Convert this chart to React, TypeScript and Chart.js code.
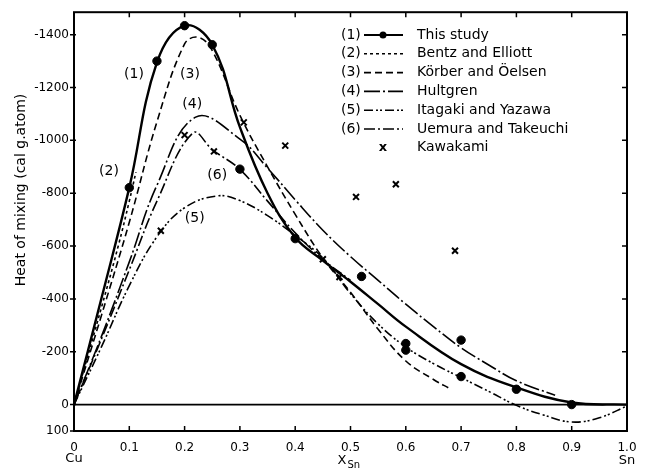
import React, { useEffect, useRef } from "react";
import { Chart, registerables } from "chart.js";

Chart.register(...registerables);

// ---- axis ticks ----
const xTickValues = [0, 0.1, 0.2, 0.3, 0.4, 0.5, 0.6, 0.7, 0.8, 0.9, 1.0];
const yTickValues = [-1400, -1200, -1000, -800, -600, -400, -200, 0, 100];

// ---- (1) This study: measured points ----
const studyX = [0.1, 0.15, 0.2, 0.25, 0.3, 0.4, 0.52, 0.6, 0.6, 0.7, 0.7, 0.8, 0.9];
const studyY = [-821, -1300, -1434, -1362, -891, -628, -485, -231, -206, -244, -106, -58, 0];

// ---- Kawakami points ----
const kawakamiX = [0.157, 0.2, 0.253, 0.307, 0.382, 0.45, 0.48, 0.51, 0.582, 0.689];
const kawakamiY = [-658, -1020, -958, -1068, -980, -550, -483, -786, -834, -582];

// ---- (1) This study curve ----
const curve1X = [0, 0.05, 0.1, 0.15, 0.2, 0.25, 0.3, 0.35, 0.4, 0.45, 0.5, 0.55, 0.6, 0.7, 0.8, 0.9, 1.0];
const curve1Y = [0, -405, -821, -1295, -1434, -1362, -1050, -800, -632, -545, -465, -380, -295, -153, -65, -8, 0];

// ---- (2) Bentz and Elliott ----
const curve2X = [0, 0.05, 0.08, 0.1, 0.112];
const curve2Y = [0, -370, -600, -770, -880];

// ---- (3) Körber and Öelsen ----
const curve3X = [0, 0.05, 0.1, 0.15, 0.2, 0.225, 0.25, 0.3, 0.35, 0.4, 0.45, 0.5, 0.55, 0.6, 0.65, 0.68];
const curve3Y = [0, -340, -690, -1070, -1365, -1390, -1340, -1095, -900, -720, -555, -425, -285, -165, -95, -60];

// ---- (4) Hultgren ----
const curve4X = [0, 0.05, 0.1, 0.15, 0.22, 0.3, 0.35, 0.4, 0.45, 0.5, 0.55, 0.6, 0.65, 0.7, 0.75, 0.8, 0.87];
const curve4Y = [0, -260, -540, -830, -1088, -1005, -895, -775, -660, -560, -470, -380, -295, -215, -150, -90, -35];

// ---- (5) Itagaki and Yazawa ----
const curve5X = [0, 0.05, 0.1, 0.15, 0.2, 0.26, 0.3, 0.35, 0.4, 0.45, 0.5, 0.55, 0.6, 0.65, 0.7, 0.75, 0.8, 0.85, 0.9, 0.95, 1.0];
const curve5Y = [0, -220, -450, -635, -745, -790, -772, -715, -640, -555, -420, -305, -218, -155, -102, -50, 3, 40, 66, 50, 5];

// ---- (6) Uemura and Takeuchi ----
const curve6X = [0, 0.05, 0.1, 0.15, 0.215, 0.25, 0.3, 0.35, 0.4, 0.45, 0.5];
const curve6Y = [0, -250, -510, -770, -1028, -965, -890, -770, -650, -550, -470];

// ---- legend / annotation texts ----
const legendTags = ["(1)", "(2)", "(3)", "(4)", "(5)", "(6)", "x"];
const legendNames = ["This study", "Bentz and Elliott", "Körber and Öelsen", "Hultgren", "Itagaki and Yazawa", "Uemura and Takeuchi", "Kawakami"];
const curveTags = ["(1)", "(3)", "(4)", "(2)", "(6)", "(5)"];
const curveTagX = [0.1085, 0.2098, 0.2139, 0.0633, 0.2591, 0.2183];
const curveTagY = [-1249, -1249, -1137, -884, -867, -704];

const dashes: number[][] = [[], [3, 3], [7, 4], [16, 3, 2, 3], [9, 3, 2, 2, 2, 3], [11, 3, 2, 3]];

const FONT = '"DejaVu Sans", sans-serif';

const pts = (xs: number[], ys: number[]) => xs.map((x, i) => ({ x, y: ys[i] }));

export default function App() {
  const ref = useRef<HTMLCanvasElement>(null);

  useEffect(() => {
    document.body.style.margin = "0";
    const canvas = ref.current!;

    const curve = (label: string, xs: number[], ys: number[], dash: number[], width: number) => ({
      label,
      data: pts(xs, ys),
      borderColor: "#000",
      backgroundColor: "#000",
      borderWidth: width,
      borderDash: dash,
      pointRadius: 0,
      fill: false,
      showLine: true,
      tension: 0.4,
      clip: false as any,
    });

    const decor = {
      id: "decor",
      afterDraw(chart: any) {
        const ctx = chart.ctx as CanvasRenderingContext2D;
        const { left, right, top, bottom } = chart.chartArea;
        const xs = chart.scales.x;
        const ys = chart.scales.y;
        ctx.save();
        ctx.strokeStyle = "#000";
        ctx.fillStyle = "#000";
        ctx.setLineDash([]);
        // frame
        ctx.lineWidth = 2;
        ctx.strokeRect(left, top, right - left, bottom - top);
        // zero line
        const y0 = ys.getPixelForValue(0);
        ctx.lineWidth = 1.8;
        ctx.beginPath();
        ctx.moveTo(left, y0);
        ctx.lineTo(right, y0);
        ctx.stroke();
        // ticks
        ctx.lineWidth = 1.5;
        ctx.beginPath();
        xTickValues.forEach((v) => {
          const px = xs.getPixelForValue(v);
          if (v > 0 && v < 1) {
            ctx.moveTo(px, bottom);
            ctx.lineTo(px, bottom - 5);
            ctx.moveTo(px, top);
            ctx.lineTo(px, top + 5);
          }
        });
        yTickValues.forEach((v) => {
          const py = ys.getPixelForValue(v);
          ctx.moveTo(left - 4, py);
          ctx.lineTo(left + 2, py);
          if (v !== 0 && v !== 100) {
            ctx.moveTo(right, py);
            ctx.lineTo(right - 5, py);
          }
        });
        ctx.stroke();

        // axis extra labels
        ctx.font = `13px ${FONT}`;
        ctx.textAlign = "center";
        ctx.textBaseline = "middle";
        ctx.fillText("Cu", xs.getPixelForValue(0), 459);
        ctx.fillText("Sn", xs.getPixelForValue(1), 461);
        const xm = xs.getPixelForValue(0.5) - 4;
        ctx.textAlign = "right";
        ctx.fillText("X", xm, 461);
        ctx.textAlign = "left";
        ctx.font = `10px ${FONT}`;
        ctx.fillText("Sn", xm + 1, 465);

        // y title
        ctx.save();
        ctx.translate(21, 190);
        ctx.rotate(-Math.PI / 2);
        ctx.font = `14px ${FONT}`;
        ctx.textAlign = "center";
        ctx.textBaseline = "middle";
        ctx.fillText("Heat of mixing (cal g.atom)", 0, 0);
        ctx.restore();

        // curve tags
        ctx.font = `14px ${FONT}`;
        ctx.textAlign = "center";
        ctx.textBaseline = "middle";
        curveTags.forEach((t, i) => {
          ctx.fillText(t, xs.getPixelForValue(curveTagX[i]), ys.getPixelForValue(curveTagY[i]));
        });

        // legend
        const rowY0 = 35;
        const rowH = 18.8;
        legendNames.forEach((name, i) => {
          const y = rowY0 + i * rowH;
          ctx.font = `14px ${FONT}`;
          ctx.textBaseline = "middle";
          if (i < 6) {
            ctx.textAlign = "left";
            ctx.fillText(legendTags[i], 341, y);
            ctx.lineWidth = i === 0 ? 2.2 : 1.6;
            ctx.setLineDash(dashes[i]);
            ctx.beginPath();
            ctx.moveTo(364, y);
            ctx.lineTo(403, y);
            ctx.stroke();
            ctx.setLineDash([]);
            if (i === 0) {
              ctx.beginPath();
              ctx.arc(383, y, 3.5, 0, Math.PI * 2);
              ctx.fill();
            }
          } else {
            ctx.textAlign = "center";
            ctx.font = `bold 13px ${FONT}`;
            ctx.fillText(legendTags[i], 383, y);
            ctx.font = `14px ${FONT}`;
          }
          ctx.textAlign = "left";
          ctx.fillText(name, 417, y);
        });
        ctx.restore();
      },
    };

    const chart = new Chart(canvas, {
      type: "line",
      data: {
        datasets: [
          curve("This study curve", curve1X, curve1Y, dashes[0], 2.4),
          curve("Bentz and Elliott", curve2X, curve2Y, dashes[1], 1.6),
          curve("Körber and Öelsen", curve3X, curve3Y, dashes[2], 1.6),
          curve("Hultgren", curve4X, curve4Y, dashes[3], 1.6),
          curve("Itagaki and Yazawa", curve5X, curve5Y, dashes[4], 1.6),
          curve("Uemura and Takeuchi", curve6X, curve6Y, dashes[5], 1.6),
          {
            label: "This study",
            data: pts(studyX, studyY),
            showLine: false,
            pointStyle: "circle",
            pointRadius: 4.2,
            pointBackgroundColor: "#000",
            pointBorderColor: "#000",
            borderColor: "#000",
            clip: false as any,
          },
          {
            label: "Kawakami",
            data: pts(kawakamiX, kawakamiY),
            showLine: false,
            pointStyle: "crossRot",
            pointRadius: 4.2,
            pointBorderWidth: 2,
            pointBorderColor: "#000",
            borderColor: "#000",
            clip: false as any,
          },
        ] as any,
      },
      options: {
        responsive: false,
        animation: false,
        devicePixelRatio: 1,
        layout: { padding: { top: 9, right: 21, left: 0, bottom: 0 } },
        plugins: { legend: { display: false }, tooltip: { enabled: false } },
        scales: {
          x: {
            type: "linear",
            min: 0,
            max: 1,
            afterFit: (s: any) => {
              s.height = 37;
            },
            afterBuildTicks: (s: any) => {
              s.ticks = xTickValues.map((v) => ({ value: v }));
            },
            ticks: {
              callback: (v: any) => (v === 0 ? "0" : Number(v).toFixed(1)),
              font: { family: FONT, size: 12 },
              color: "#000",
              padding: 10,
              maxRotation: 0,
              autoSkip: false,
            },
            grid: { display: false, drawTicks: false },
            border: { display: false },
          },
          y: {
            type: "linear",
            min: -1485,
            max: 100,
            reverse: true,
            afterFit: (s: any) => {
              s.width = 74;
            },
            afterBuildTicks: (s: any) => {
              s.ticks = yTickValues.map((v) => ({ value: v }));
            },
            ticks: {
              callback: (v: any) => String(v),
              font: { family: FONT, size: 12 },
              color: "#000",
              padding: 5,
              autoSkip: false,
            },
            grid: { display: false, drawTicks: false },
            border: { display: false },
          },
        },
      } as any,
      plugins: [decor],
    });

    return () => chart.destroy();
  }, []);

  return (
    <div style={{ width: 648, height: 468 }}>
      <canvas ref={ref} width={648} height={468} style={{ display: "block" }} />
    </div>
  );
}
